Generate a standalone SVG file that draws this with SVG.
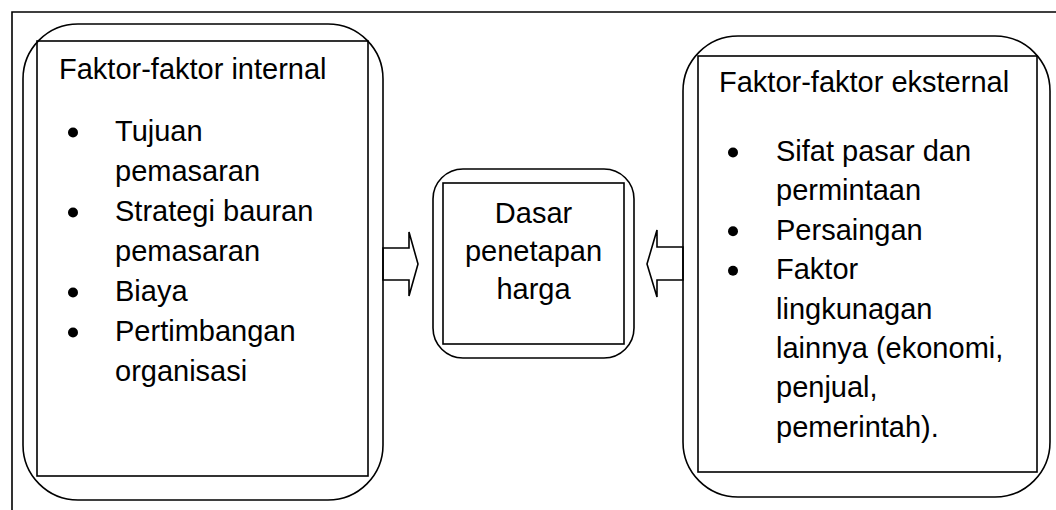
<svg xmlns="http://www.w3.org/2000/svg" width="1056" height="510" viewBox="0 0 1056 510">
<style>
.s{fill:none;stroke:#000;stroke-width:1.6}
.t{font-family:"Liberation Sans",Arial,sans-serif;font-size:29px;fill:#000}
.m{text-anchor:middle}
.b{fill:#000}
</style>
<rect width="1056" height="510" fill="#fff"/>
<g id="frame">
<path class="s" d="M12,510 V12 H1056"/>
</g>
<g id="internal">
<rect class="s" x="23" y="24" width="360" height="476" rx="55" ry="55"/>
<rect class="s" x="37" y="41" width="331" height="435"/>
<text class="t" x="59" y="79">Faktor-faktor internal</text>
<circle class="b" cx="73" cy="132.5" r="5"/>
<circle class="b" cx="73" cy="212.5" r="5"/>
<circle class="b" cx="73" cy="292.5" r="5"/>
<circle class="b" cx="73" cy="332.5" r="5"/>
<text class="t" x="115" y="141">Tujuan</text>
<text class="t" x="115" y="181">pemasaran</text>
<text class="t" x="115" y="221">Strategi bauran</text>
<text class="t" x="115" y="261">pemasaran</text>
<text class="t" x="115" y="301">Biaya</text>
<text class="t" x="115" y="341">Pertimbangan</text>
<text class="t" x="115" y="381">organisasi</text>
</g>
<g id="center">
<rect class="s" x="433" y="169" width="201" height="189" rx="30" ry="30"/>
<rect class="s" x="443" y="183" width="181" height="161"/>
<text class="t m" x="533.5" y="223">Dasar</text>
<text class="t m" x="533.5" y="261">penetapan</text>
<text class="t m" x="533.5" y="299">harga</text>
</g>
<g id="external">
<rect class="s" x="683" y="36" width="367" height="461" rx="55" ry="55"/>
<rect class="s" x="698" y="56" width="339" height="416"/>
<text class="t" x="719" y="92">Faktor-faktor eksternal</text>
<circle class="b" cx="733" cy="152.5" r="5"/>
<circle class="b" cx="733" cy="231.3" r="5"/>
<circle class="b" cx="733" cy="270.7" r="5"/>
<text class="t" x="776" y="161">Sifat pasar dan</text>
<text class="t" x="776" y="200.4">permintaan</text>
<text class="t" x="776" y="239.8">Persaingan</text>
<text class="t" x="776" y="279.2">Faktor</text>
<text class="t" x="776" y="318.6">lingkunagan</text>
<text class="t" x="776" y="358">lainnya (ekonomi,</text>
<text class="t" x="776" y="397.4">penjual,</text>
<text class="t" x="776" y="436.8">pemerintah).</text>
</g>
<g id="connectors">
<polygon class="s" points="383,248 409,248 409,232 418,264 409,296 409,280 383,280"/>
<polygon class="s" points="683,247 657,247 657,230 647,264 657,297 657,280 683,280"/>
</g>
</svg>
